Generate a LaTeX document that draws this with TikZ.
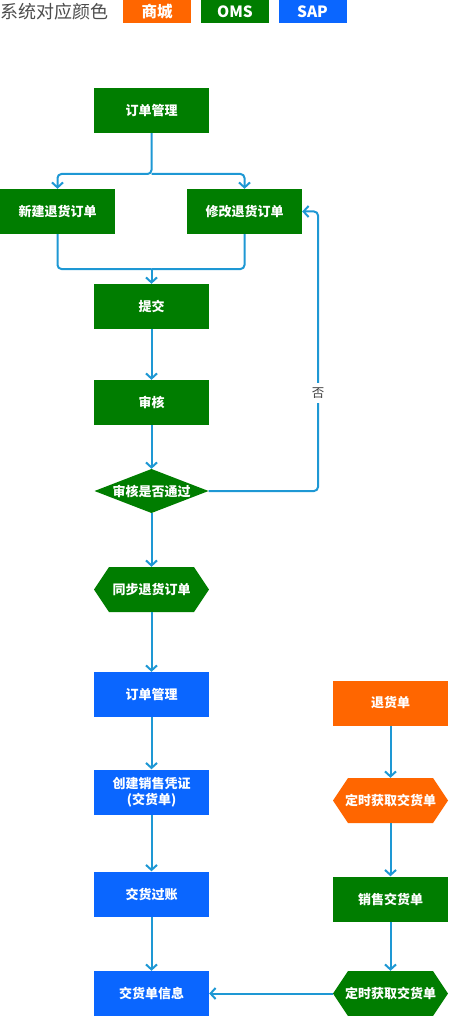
\documentclass[tikz,border=0pt]{standalone}
\usepackage{fontspec}
\setmainfont{Noto Sans CJK SC}
\usetikzlibrary{arrows.meta}
\definecolor{mall}{RGB}{255,102,0}
\definecolor{oms}{RGB}{0,125,0}
\definecolor{sap}{RGB}{10,102,255}
\definecolor{wire}{RGB}{30,152,212}
\tikzset{
  box/.style={rectangle, fill=#1, text=white, minimum width=115pt, minimum height=45pt, inner sep=0pt, font=\fontsize{13}{15.5}\selectfont\bfseries, align=center},
  hexbox/.style={rectangle, fill=white, text=white, minimum width=115pt, minimum height=45pt, inner sep=0pt, font=\fontsize{13}{15.5}\selectfont\bfseries,
    path picture={\fill[#1] (path picture bounding box.west) -- ([xshift=15pt]path picture bounding box.north west) -- ([xshift=-15pt]path picture bounding box.north east) -- (path picture bounding box.east) -- ([xshift=-15pt]path picture bounding box.south east) -- ([xshift=15pt]path picture bounding box.south west) -- cycle;}},
  decide/.style={rectangle, fill=white, text=white, minimum width=114pt, minimum height=44pt, inner sep=0pt, font=\fontsize{13}{15.5}\selectfont\bfseries,
    path picture={\fill[#1] (path picture bounding box.west) -- (path picture bounding box.north) -- (path picture bounding box.east) -- (path picture bounding box.south) -- cycle;}},
  keybox/.style={rectangle, fill=#1, text=white, minimum width=68pt, minimum height=23pt, inner sep=0pt, font=\fontsize{15.5}{18}\selectfont\bfseries},
  flow/.style={draw=wire, line width=2pt, rounded corners=4pt, -{Straight Barb[length=5pt,width=11pt]}},
  link/.style={draw=wire, line width=2pt, rounded corners=4pt}
}

\begin{document}
\begin{tikzpicture}[x=1pt,y=-1pt]
				\useasboundingbox (0,0) rectangle (448,1016);
				\def\xl{151.5}
				\def\xr{390.5}
				
				% legend
				\node[anchor=west, text=black!70, font=\fontsize{18}{21}\selectfont, inner sep=0pt] (keytxt) at (0,12) {系统对应颜色};
				\node[keybox=mall] (keymall) at (157,11.5) {商城};
				\node[keybox=oms] (keyoms) at (235,11.5) {OMS};
				\node[keybox=sap] (keysap) at (312.5,11.5) {SAP};
				
				% oms part
				\node[box=oms] (mgmt) at (\xl,110.5) {订单管理};
				\node[box=oms] (newret) at (57.5,211.5) {新建退货订单};
				\node[box=oms] (modret) at (244.5,211.5) {修改退货订单};
				\node[box=oms] (submit) at (\xl,306.5) {提交};
				\node[box=oms] (audit) at (\xl,402.5) {审核};
				\node[decide=oms] (check) at (\xl,491) {审核是否通过};
				\node[hexbox=oms] (sync) at (\xl,589.5) {同步退货订单};
				
				% sap part
				\node[box=sap] (sapmgmt) at (\xl,694.5) {订单管理};
				\node[box=sap] (create) at (\xl,792) {创建销售凭证\\(交货单)};
				\node[box=sap] (post) at (\xl,894) {交货过账};
				\node[box=sap] (info) at (\xl,993.5) {交货单信息};
				
				% right column
				\node[box=mall] (retdoc) at (\xr,703) {退货单};
				\node[hexbox=mall] (fetchone) at (\xr,800.5) {定时获取交货单};
				\node[box=oms] (sales) at (\xr,899) {销售交货单};
				\node[hexbox=oms] (fetchtwo) at (\xr,993.5) {定时获取交货单};
				
				\coordinate (split) at (\xl,174);
				\coordinate (merge) at (\xl,269);
				\coordinate (back) at (318,211.5);
				
				\draw[flow] (mgmt.south) -- (split) -| (newret.north);
				\draw[flow] (split) -| (modret.north);
				\draw[link] (newret.south) |- (merge);
				\draw[link] (modret.south) |- (merge);
				\draw[flow] (merge) -- (submit.north);
				\draw[flow] (submit) -- (audit);
				\draw[flow] (audit) -- (check);
				\draw[flow] (check) -- (sync);
				\draw[flow] (check.east) -| (back) -- (modret.east);
				\node[fill=white, text=black!75, font=\fontsize{12.5}{14}\selectfont, inner xsep=1pt, inner ysep=5pt] (no) at (318,393) {否};
				\draw[flow] (sync) -- (sapmgmt);
				\draw[flow] (sapmgmt) -- (create);
				\draw[flow] (create) -- (post);
				\draw[flow] (post) -- (info);
				
				\draw[flow] (retdoc) -- (fetchone);
				\draw[flow] (fetchone) -- (sales);
				\draw[flow] (sales) -- (fetchtwo);
				\draw[flow] (fetchtwo.west) -- (info.east);
\end{tikzpicture}
\end{document}
